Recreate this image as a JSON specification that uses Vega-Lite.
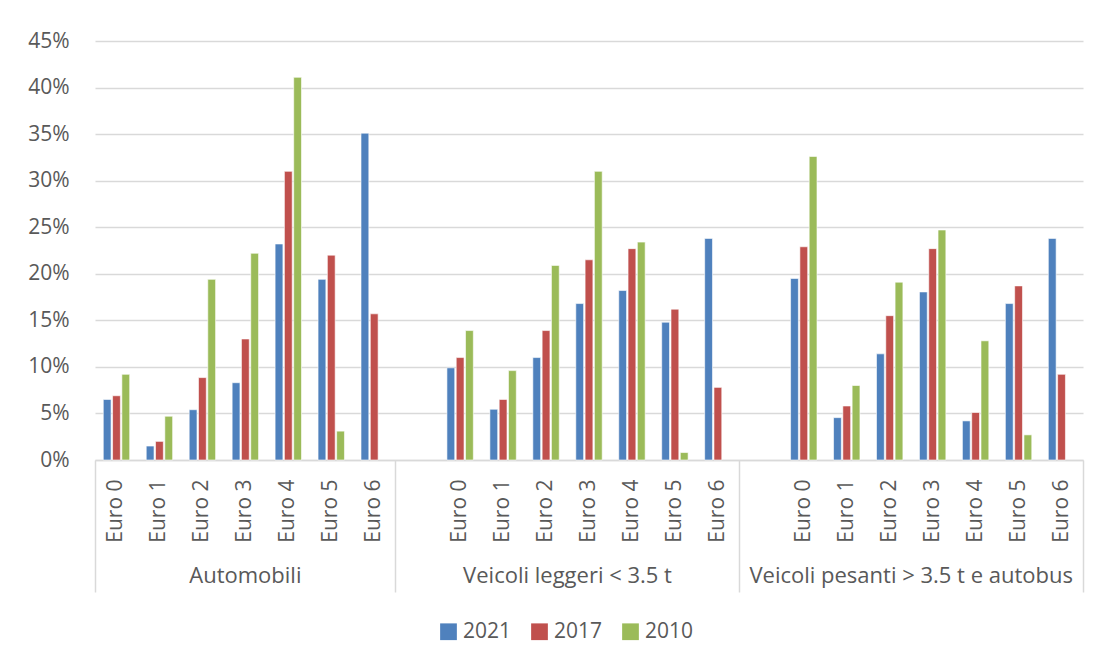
{
  "$schema": "https://vega.github.io/schema/vega-lite/v6.json",
  "width": 988,
  "height": 419,
  "padding": {"left": 27, "top": 30, "right": 5, "bottom": 5},
  "background": "white",
  "config": {
    "font": "Open Sans",
    "view": {"stroke": null},
    "axis": {"labelFont": "Open Sans", "labelFontSize": 21, "labelColor": "#595959", "titleColor": "#595959"},
    "legend": {"labelFont": "Open Sans", "labelFontSize": 21, "labelColor": "#595959"}
  },
  "data": {
    "values": [
      {"slot": "A|Euro 0", "anno": "2021", "valore": 0.065},
      {"slot": "A|Euro 0", "anno": "2017", "valore": 0.069},
      {"slot": "A|Euro 0", "anno": "2010", "valore": 0.092},
      {"slot": "A|Euro 1", "anno": "2021", "valore": 0.015},
      {"slot": "A|Euro 1", "anno": "2017", "valore": 0.020},
      {"slot": "A|Euro 1", "anno": "2010", "valore": 0.047},
      {"slot": "A|Euro 2", "anno": "2021", "valore": 0.054},
      {"slot": "A|Euro 2", "anno": "2017", "valore": 0.0885},
      {"slot": "A|Euro 2", "anno": "2010", "valore": 0.194},
      {"slot": "A|Euro 3", "anno": "2021", "valore": 0.083},
      {"slot": "A|Euro 3", "anno": "2017", "valore": 0.130},
      {"slot": "A|Euro 3", "anno": "2010", "valore": 0.222},
      {"slot": "A|Euro 4", "anno": "2021", "valore": 0.232},
      {"slot": "A|Euro 4", "anno": "2017", "valore": 0.310},
      {"slot": "A|Euro 4", "anno": "2010", "valore": 0.411},
      {"slot": "A|Euro 5", "anno": "2021", "valore": 0.194},
      {"slot": "A|Euro 5", "anno": "2017", "valore": 0.220},
      {"slot": "A|Euro 5", "anno": "2010", "valore": 0.031},
      {"slot": "A|Euro 6", "anno": "2021", "valore": 0.351},
      {"slot": "A|Euro 6", "anno": "2017", "valore": 0.157},
      {"slot": "B|Euro 0", "anno": "2021", "valore": 0.099},
      {"slot": "B|Euro 0", "anno": "2017", "valore": 0.110},
      {"slot": "B|Euro 0", "anno": "2010", "valore": 0.139},
      {"slot": "B|Euro 1", "anno": "2021", "valore": 0.0545},
      {"slot": "B|Euro 1", "anno": "2017", "valore": 0.065},
      {"slot": "B|Euro 1", "anno": "2010", "valore": 0.096},
      {"slot": "B|Euro 2", "anno": "2021", "valore": 0.110},
      {"slot": "B|Euro 2", "anno": "2017", "valore": 0.139},
      {"slot": "B|Euro 2", "anno": "2010", "valore": 0.209},
      {"slot": "B|Euro 3", "anno": "2021", "valore": 0.168},
      {"slot": "B|Euro 3", "anno": "2017", "valore": 0.215},
      {"slot": "B|Euro 3", "anno": "2010", "valore": 0.310},
      {"slot": "B|Euro 4", "anno": "2021", "valore": 0.182},
      {"slot": "B|Euro 4", "anno": "2017", "valore": 0.227},
      {"slot": "B|Euro 4", "anno": "2010", "valore": 0.234},
      {"slot": "B|Euro 5", "anno": "2021", "valore": 0.148},
      {"slot": "B|Euro 5", "anno": "2017", "valore": 0.162},
      {"slot": "B|Euro 5", "anno": "2010", "valore": 0.008},
      {"slot": "B|Euro 6", "anno": "2021", "valore": 0.238},
      {"slot": "B|Euro 6", "anno": "2017", "valore": 0.078},
      {"slot": "C|Euro 0", "anno": "2021", "valore": 0.195},
      {"slot": "C|Euro 0", "anno": "2017", "valore": 0.229},
      {"slot": "C|Euro 0", "anno": "2010", "valore": 0.326},
      {"slot": "C|Euro 1", "anno": "2021", "valore": 0.0455},
      {"slot": "C|Euro 1", "anno": "2017", "valore": 0.058},
      {"slot": "C|Euro 1", "anno": "2010", "valore": 0.080},
      {"slot": "C|Euro 2", "anno": "2021", "valore": 0.114},
      {"slot": "C|Euro 2", "anno": "2017", "valore": 0.155},
      {"slot": "C|Euro 2", "anno": "2010", "valore": 0.191},
      {"slot": "C|Euro 3", "anno": "2021", "valore": 0.1805},
      {"slot": "C|Euro 3", "anno": "2017", "valore": 0.227},
      {"slot": "C|Euro 3", "anno": "2010", "valore": 0.247},
      {"slot": "C|Euro 4", "anno": "2021", "valore": 0.042},
      {"slot": "C|Euro 4", "anno": "2017", "valore": 0.051},
      {"slot": "C|Euro 4", "anno": "2010", "valore": 0.128},
      {"slot": "C|Euro 5", "anno": "2021", "valore": 0.168},
      {"slot": "C|Euro 5", "anno": "2017", "valore": 0.187},
      {"slot": "C|Euro 5", "anno": "2010", "valore": 0.027},
      {"slot": "C|Euro 6", "anno": "2021", "valore": 0.238},
      {"slot": "C|Euro 6", "anno": "2017", "valore": 0.092}
    ]
  },
  "resolve": {"axis": {"x": "independent"}},
  "layer": [
    {
      "mark": {"type": "bar", "stroke": "white", "strokeWidth": 0.6},
      "encoding": {
        "x": {
          "field": "slot", "type": "nominal",
          "scale": {"domain": ["A|Euro 0","A|Euro 1","A|Euro 2","A|Euro 3","A|Euro 4","A|Euro 5","A|Euro 6","B|","B|Euro 0","B|Euro 1","B|Euro 2","B|Euro 3","B|Euro 4","B|Euro 5","B|Euro 6","C|","C|Euro 0","C|Euro 1","C|Euro 2","C|Euro 3","C|Euro 4","C|Euro 5","C|Euro 6"], "paddingInner": 0, "paddingOuter": 0},
          "axis": {"orient": "bottom", "title": null, "ticks": false, "grid": false, "domainColor": "#d9d9d9", "domainWidth": 1.5, "labelAngle": -90, "labelPadding": 19, "labelOverlap": false, "labelExpr": "split(datum.label, '|')[1]"}
        },
        "xOffset": {"field": "anno", "type": "nominal", "scale": {"domain": ["2021","2017","2010"], "paddingInner": 0.16, "paddingOuter": 0.89}},
        "y": {
          "field": "valore", "type": "quantitative",
          "scale": {"domain": [0, 0.45], "nice": false},
          "axis": {"title": null, "values": [0,0.05,0.1,0.15,0.2,0.25,0.3,0.35,0.4,0.45], "format": ".0%", "ticks": false, "domain": false, "labelPadding": 26, "gridColor": "#d9d9d9", "gridWidth": 1.5}
        },
        "color": {
          "field": "anno", "type": "nominal",
          "scale": {"domain": ["2021","2017","2010"], "range": ["#4F81BD","#C0504D","#9BBB59"]},
          "legend": {"title": null, "orient": "none", "direction": "horizontal", "legendX": 343, "legendY": 580, "symbolType": "square", "symbolSize": 280, "symbolStrokeWidth": 0, "labelOffset": 4, "columnPadding": 17}
        }
      }
    },
    {
      "mark": {"type": "text", "text": "", "opacity": 0},
      "encoding": {
        "x": {
          "field": "slot", "type": "nominal",
          "scale": {"domain": ["A|Euro 0","A|Euro 1","A|Euro 2","A|Euro 3","A|Euro 4","A|Euro 5","A|Euro 6","B|","B|Euro 0","B|Euro 1","B|Euro 2","B|Euro 3","B|Euro 4","B|Euro 5","B|Euro 6","C|","C|Euro 0","C|Euro 1","C|Euro 2","C|Euro 3","C|Euro 4","C|Euro 5","C|Euro 6"], "paddingInner": 0, "paddingOuter": 0},
          "axis": {
            "orient": "bottom", "title": null, "grid": false, "domain": false,
            "values": ["A|Euro 0", "B|", "C|"],
            "bandPosition": 0,
            "tickSize": 132, "tickColor": "#d9d9d9", "tickWidth": 1.5,
            "labelAngle": 0, "labelAlign": "center", "labelBaseline": "top", "labelFontSize": 22,
            "labelPadding": -27, "labelOverlap": false, "labelBound": false, "labelFlush": false, "labelLimit": 0,
            "labelOffset": {"condition": {"test": "datum.value == 'A|Euro 0'", "value": 128.87}, "value": 150.35},
            "labelExpr": "datum.value == 'A|Euro 0' ? 'Automobili' : (datum.value == 'B|' ? 'Veicoli leggeri < 3.5 t' : 'Veicoli pesanti > 3.5 t e autobus')"
          }
        }
      }
    },
    {
      "mark": {"type": "text", "text": "", "opacity": 0},
      "encoding": {
        "x": {
          "field": "slot", "type": "nominal",
          "scale": {"domain": ["A|Euro 0","A|Euro 1","A|Euro 2","A|Euro 3","A|Euro 4","A|Euro 5","A|Euro 6","B|","B|Euro 0","B|Euro 1","B|Euro 2","B|Euro 3","B|Euro 4","B|Euro 5","B|Euro 6","C|","C|Euro 0","C|Euro 1","C|Euro 2","C|Euro 3","C|Euro 4","C|Euro 5","C|Euro 6"], "paddingInner": 0, "paddingOuter": 0},
          "axis": {
            "orient": "bottom", "title": null, "grid": false, "domain": false, "labels": false,
            "values": ["C|Euro 6"],
            "bandPosition": 1,
            "tickSize": 132, "tickColor": "#d9d9d9", "tickWidth": 1.5
          }
        }
      }
    }
  ]
}
